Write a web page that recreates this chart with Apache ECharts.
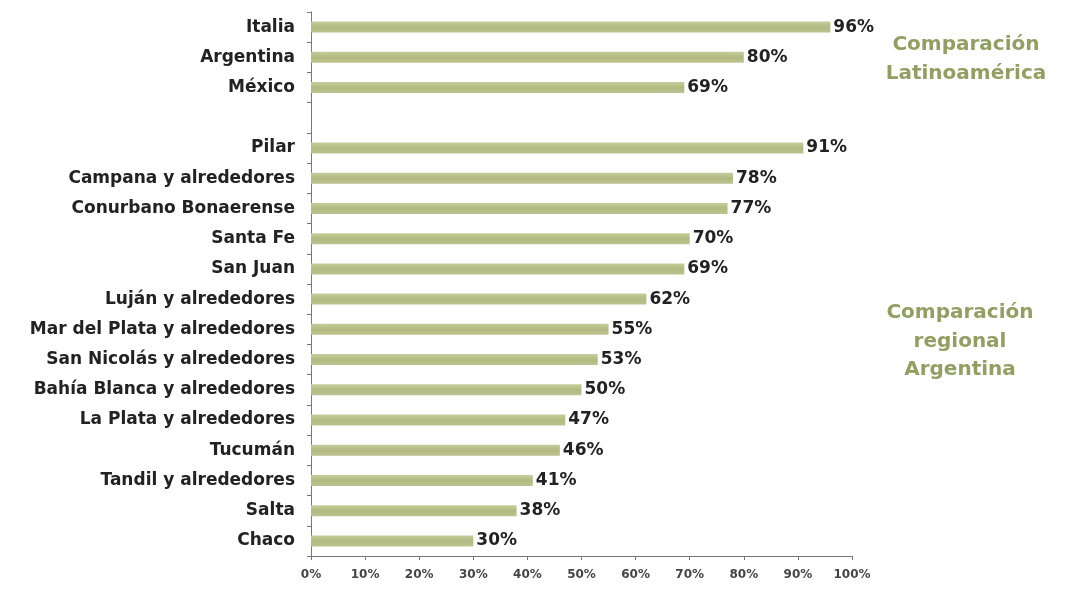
<!DOCTYPE html>
<html><head><meta charset="utf-8">
<script src="https://cdn.jsdelivr.net/npm/echarts@6/dist/echarts.min.js"></script>
<style>html,body{margin:0;padding:0;background:#fff}#c{width:1078px;height:597px}</style>
</head><body><div id="c"></div>
<script>
const categories = ['Italia','Argentina','México','','Pilar','Campana y alrededores','Conurbano Bonaerense','Santa Fe','San Juan','Luján y alrededores','Mar del Plata y alrededores','San Nicolás y alrededores','Bahía Blanca y alrededores','La Plata y alrededores','Tucumán','Tandil y alrededores','Salta','Chaco'];
const values = [96,80,69,null,91,78,77,70,69,62,55,53,50,47,46,41,38,30];
const xTicks = [0,10,20,30,40,50,60,70,80,90,100];
const noteTop = ['Comparación','Latinoamérica'];
const noteBottom = ['Comparación','regional','Argentina'];

const FONT = '"DejaVu Sans", Verdana, sans-serif';
const chart = echarts.init(document.getElementById('c'));
chart.setOption({
  backgroundColor:'#fff',
  animation:false,
  grid:{left:311,right:226,top:12,bottom:41},
  xAxis:{type:'value',min:0,max:100,interval:10,
    axisLine:{show:true,lineStyle:{color:'#777',width:1}},
    axisTick:{show:true,length:4,lineStyle:{color:'#777'}},
    splitLine:{show:false},
    axisLabel:{formatter:v=>xTicks.includes(v)?v+'%':'',fontFamily:FONT,fontWeight:'bold',fontSize:12,color:'#444',margin:13}
  },
  yAxis:{type:'category',data:categories,inverse:true,
    axisLine:{show:true,lineStyle:{color:'#777'}},
    axisTick:{show:true,length:4,lineStyle:{color:'#777'}},
    axisLabel:{fontFamily:FONT,fontWeight:'bold',fontSize:17,color:'#222',margin:16}
  },
  series:[{type:'bar',data:values,barWidth:11,
    itemStyle:{color:new echarts.graphic.LinearGradient(0,0,0,1,[{offset:0,color:'#c6cd9e'},{offset:0.5,color:'#b1ba7f'},{offset:1,color:'#bcc391'}])},
    label:{show:true,position:'right',distance:3,formatter:p=>p.value+'%',fontFamily:FONT,fontWeight:'bold',fontSize:17,color:'#222'}
  }],
  graphic:[
    {type:'text',style:{text:noteTop.join('\n'),x:966,y:30,textAlign:'center',fill:'#939f62',font:'bold 20px "DejaVu Sans"',lineHeight:29}},
    {type:'text',style:{text:noteBottom.join('\n'),x:960,y:299,textAlign:'center',fill:'#939f62',font:'bold 20px "DejaVu Sans"',lineHeight:28.5}}
  ]
});
</script></body></html>
